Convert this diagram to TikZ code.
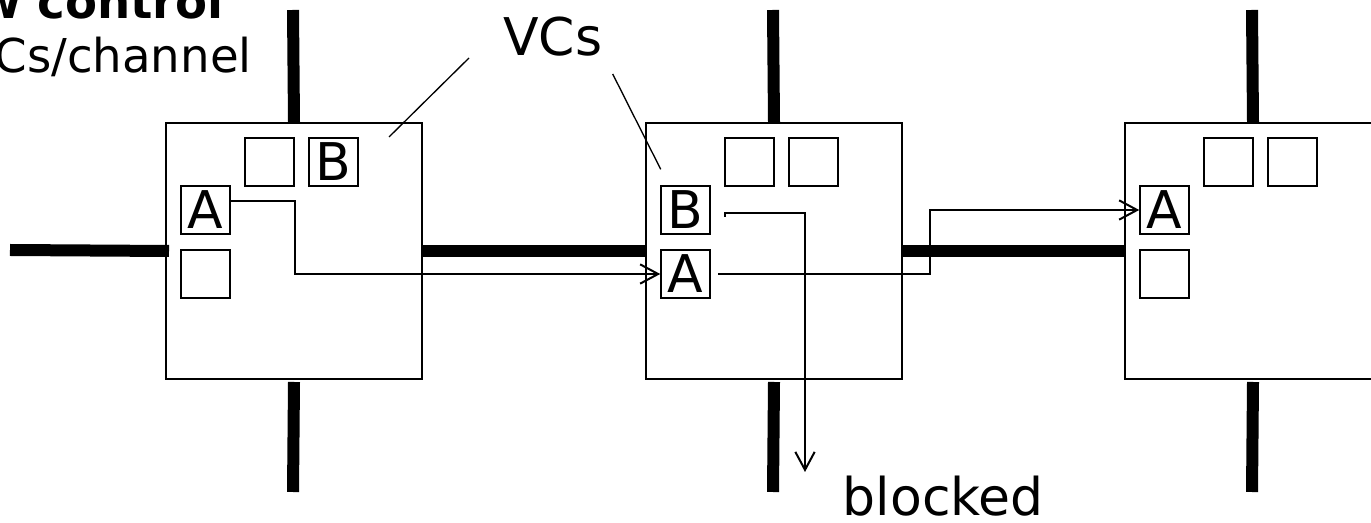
\documentclass[tikz,border=0pt]{standalone}
\usepackage{fontspec}
\setmainfont{DejaVu Sans}
\usetikzlibrary{arrows.meta,calc}
\begin{document}
\begin{tikzpicture}[x=0.75pt,y=-0.75pt,
  router/.style={draw,line width=1.5pt,minimum width=192pt,minimum height=192pt,inner sep=0pt,anchor=north west},
  buf/.style={draw,line width=1.5pt,minimum size=36.4pt,inner sep=0pt,font=\fontsize{39}{39}\selectfont},
  link/.style={line width=9pt},
  wire/.style={line width=1.5pt},
  arr/.style={wire,-{Straight Barb[length=13.5pt,width=14.5pt,line width=1.5pt]}},
  leader/.style={line width=1pt},
  big/.style={inner sep=0pt,font=\fontsize{39}{39}\selectfont},
  side/.style={inner sep=0pt,font=\fontsize{35}{35}\selectfont}
]
\useasboundingbox (0,0) rectangle (1371,523);
% routers
\node[router] (r1) at (165,122) {};
\node[router] (r2) at (645,122) {};
\node[router] (r3) at (1124,122) {};
% buffers
\node[buf] (a1) at (205.5,210) {A};
\node[buf] (e1) at (205.5,274) {};
\node[buf] (t1) at (269.5,162) {};
\node[buf] (bb1) at (333.5,162) {B};
\node[buf] (b2) at (685.5,210) {B};
\node[buf] (a2) at (685.5,274) {A};
\node[buf] (t2) at (749.5,162) {};
\node[buf] (u2) at (813.5,162) {};
\node[buf] (a3) at (1164.5,210) {A};
\node[buf] (e3) at (1164.5,274) {};
\node[buf] (t3) at (1228.5,162) {};
\node[buf] (u3) at (1292.5,162) {};
% free ends
\coordinate (inL) at (10,250);
\coordinate (top1) at (293,10);
\coordinate (top2) at (773,10);
\coordinate (top3) at (1252,10);
\coordinate (bot1) at (293,492);
\coordinate (bot2) at (773,492);
\coordinate (bot3) at (1252,492);
\coordinate (blockend) at (805,472);
% links
\draw[link] (inL) -- ([xshift=3pt]r1.west);
\draw[link] (r1.east) -- (r2.west);
\draw[link] (r2.east) -- (r3.west);
\draw[link] (r1.north) -- (top1);
\draw[link] (r2.north) -- (top2);
\draw[link] (r3.north) -- (top3);
\draw[link] ([yshift=-1.5pt]r1.south) -- (bot1);
\draw[link] ([yshift=-1.5pt]r2.south) -- (bot2);
\draw[link] ([yshift=-1.5pt]r3.south) -- (bot3);
% flits
\draw[arr] ($(a1.east)+(0,-9)$) -- ++(64,0) |- (a2.west);
\draw[arr] ($(a2.east)+(7.5,0)$) -- ++(211.5,0) |- (a3.west);
\draw[arr] ($(b2.east)+(14.25,7)$) -- ++(0,-4) -| (blockend);
% labels
\node[big,anchor=base west] (vcs) at (503,56) {VCs};
\node[big,anchor=base west] (blk) at (842.5,516) {blocked};
\coordinate (l1s) at (469,58);
\coordinate (l1e) at (389,137);
\coordinate (l2s) at (612.7,74);
\coordinate (l2e) at (660.7,169.3);
\draw[leader] (l1s) -- (l1e);
\draw[leader] (l2s) -- (l2e);
\node[side,anchor=base east] (fc) at (224,19) {\bfseries w control};
\node[side,anchor=base east] (vc) at (252,73) {Cs/channel};
\end{tikzpicture}
\end{document}
